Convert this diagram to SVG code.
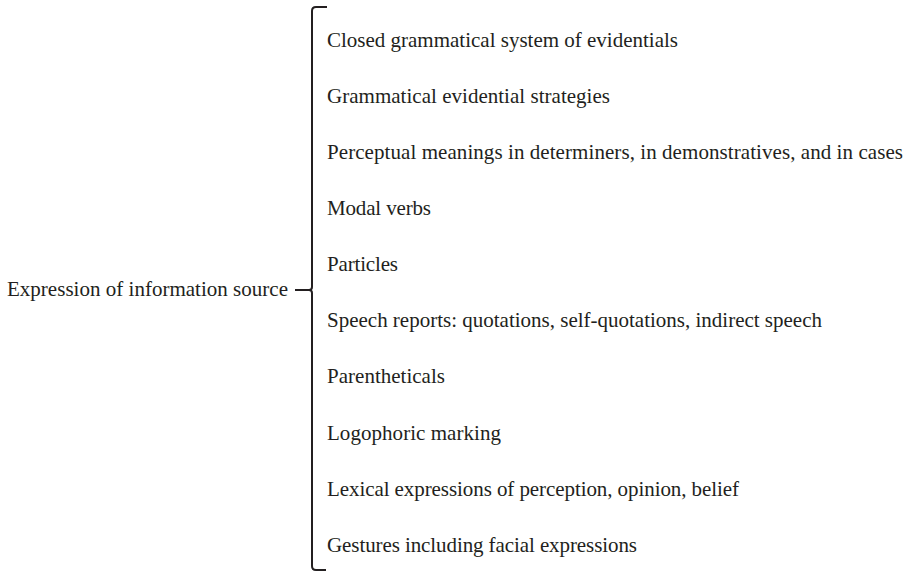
<svg xmlns="http://www.w3.org/2000/svg" width="907" height="572" viewBox="0 0 907 572">
<style>
text{font-family:"Liberation Serif","Times New Roman",serif;font-size:21px;fill:#231f20}
.ln{fill:none;stroke:#231f20;stroke-width:2}
</style>
<rect width="907" height="572" fill="#fff"/>
<g id="connectors">
<path class="ln" d="M327,7 L316,7 Q312,7 312,11 L312,287 Q312,290 309,290 Q312,290 312,293 L312,566 Q312,570 316,570 L326,570"/>
<path class="ln" d="M295,290 L309,290"/>
</g>
<g id="root"><text x="7" y="296" textLength="281" lengthAdjust="spacing">Expression of information source</text></g>
<g id="n1"><text x="327" y="47" textLength="351" lengthAdjust="spacing">Closed grammatical system of evidentials</text></g>
<g id="n2"><text x="327" y="103" textLength="283" lengthAdjust="spacing">Grammatical evidential strategies</text></g>
<g id="n3"><text x="327" y="159" textLength="576" lengthAdjust="spacing">Perceptual meanings in determiners, in demonstratives, and in cases</text></g>
<g id="n4"><text x="327" y="215" textLength="104" lengthAdjust="spacing">Modal verbs</text></g>
<g id="n5"><text x="327" y="271" textLength="71" lengthAdjust="spacing">Particles</text></g>
<g id="n6"><text x="327" y="327" textLength="495" lengthAdjust="spacing">Speech reports: quotations, self-quotations, indirect speech</text></g>
<g id="n7"><text x="327" y="383" textLength="118" lengthAdjust="spacing">Parentheticals</text></g>
<g id="n8"><text x="327" y="440" textLength="174" lengthAdjust="spacing">Logophoric marking</text></g>
<g id="n9"><text x="327" y="496" textLength="412" lengthAdjust="spacing">Lexical expressions of perception, opinion, belief</text></g>
<g id="n10"><text x="327" y="552" textLength="310" lengthAdjust="spacing">Gestures including facial expressions</text></g>
</svg>
